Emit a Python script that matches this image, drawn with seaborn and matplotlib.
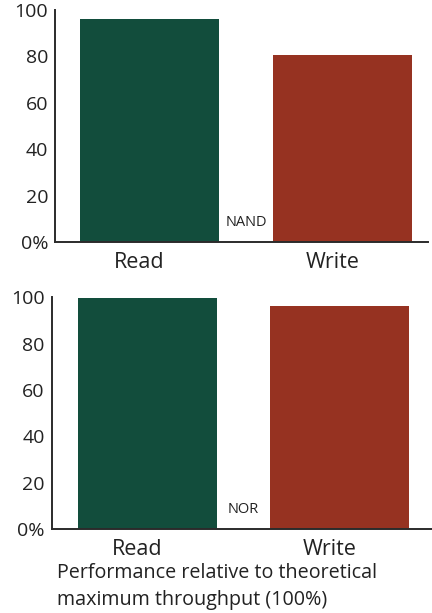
import matplotlib
matplotlib.use("Agg")
import matplotlib.pyplot as plt
import matplotlib.transforms as mtransforms
import seaborn as sns
import pandas as pd

# ---- data ----
categories = ["Read", "Write"]
nand_values = [96.3, 80.5]
nor_values = [99.6, 96.2]
panel_labels = ["NAND", "NOR"]
ytick_values = [0, 20, 40, 60, 80, 100]
ytick_labels = ["0%", "20", "40", "60", "80", "100"]
caption = "Performance relative to theoretical\nmaximum throughput (100%)"

colors = ["#124D3C", "#963221"]

sns.set_theme(style="white")
plt.rcParams["font.family"] = ["Open Sans", "DejaVu Sans"]

W, H = 432, 613
fig = plt.figure(figsize=(W / 100, H / 100), dpi=100)

axis_color = "#2b2b2b"
text_color = "#222222"

panels = [
    dict(left=55, zero=242, right=428, xlim=(-0.49, 1.443), values=nand_values, label=panel_labels[0]),
    dict(left=51.7, zero=529.3, right=432, xlim=(-0.497, 1.48), values=nor_values, label=panel_labels[1]),
]

for p in panels:
    height = 232
    ax = fig.add_axes([p["left"] / W, (H - p["zero"]) / H,
                       (p["right"] - p["left"]) / W, height / H])
    df = pd.DataFrame({"cat": categories, "val": p["values"]})
    sns.barplot(data=df, x="cat", y="val", hue="cat", palette=colors,
                width=0.72, legend=False, ax=ax, saturation=1, linewidth=0)
    ax.set_xlim(*p["xlim"])
    ax.set_ylim(0, 100)
    ax.set_xlabel("")
    ax.set_ylabel("")
    for s in ["top", "right"]:
        ax.spines[s].set_visible(False)
    for s in ["left", "bottom"]:
        ax.spines[s].set_color(axis_color)
        ax.spines[s].set_linewidth(1.4)
    ax.set_yticks(ytick_values)
    ax.set_yticklabels(ytick_labels)
    ax.tick_params(axis="y", direction="in", length=5, width=1.2,
                   color=axis_color, pad=5, labelsize=14, labelcolor=text_color)
    ax.set_xticks([0.5], minor=True)
    ax.tick_params(axis="x", which="minor", direction="in", length=3,
                   width=1.0, color=axis_color)
    ax.set_xticks([0, 1])
    ax.set_xticklabels(categories)
    ax.tick_params(axis="x", which="major", length=0, pad=7,
                   labelsize=15.5, labelcolor=text_color)
    off = mtransforms.ScaledTranslation(-10 / 100, 0, fig.dpi_scale_trans)
    for lab in ax.get_xticklabels():
        lab.set_transform(lab.get_transform() + off)
    ax.annotate(p["label"], xy=(0.5, 0), xycoords=("data", "data"),
                xytext=(0, 14), textcoords="offset points",
                ha="center", va="center", fontsize=10.5, color=text_color)
    ax.patch.set_alpha(0)

lines = caption.split("\n")
fig.text(57 / W, 1 - 573 / H, lines[0], ha="left", va="center",
         fontsize=14.2, color=text_color)
fig.text(57 / W, 1 - 600 / H, lines[1], ha="left", va="center",
         fontsize=14.2, color=text_color)

fig.savefig("out.png", dpi=100)
